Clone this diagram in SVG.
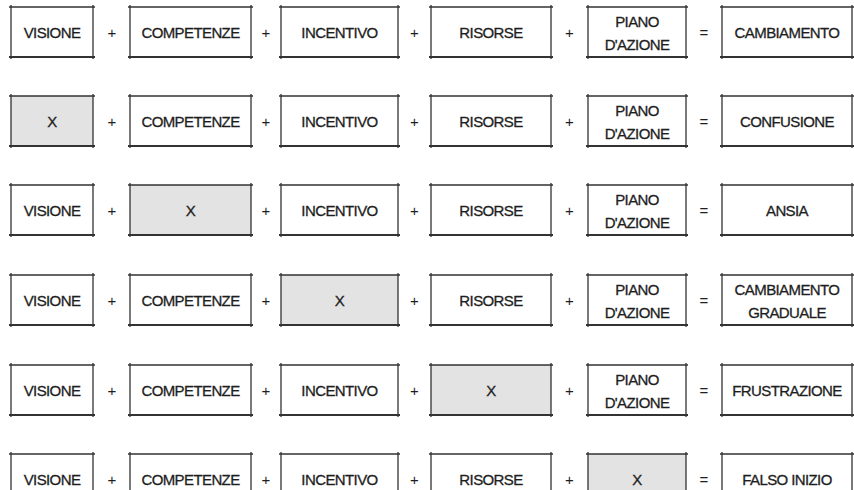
<svg xmlns="http://www.w3.org/2000/svg" width="854" height="490" viewBox="0 0 854 490">
  <style>
    .bg { fill: #ffffff; }
    .box { fill: #ffffff; stroke: none; }
    .box.off { fill: #e3e3e3; }
    .edge { fill: none; stroke: #333333; stroke-width: 1.3; }
    .edge-b { fill: none; stroke: #333333; stroke-width: 1.8; }
    .lbl { font-family: "Liberation Sans", Arial, sans-serif; font-size: 15px; fill: #1e1e1e; stroke: #1e1e1e; stroke-width: 0.3; text-anchor: middle; letter-spacing: -0.6px; }
    .op { font-family: "Liberation Sans", Arial, sans-serif; font-size: 15px; fill: #1e1e1e; text-anchor: middle; }
  </style>
  <rect class="bg" x="0" y="0" width="854" height="490"/>

  <!-- Row 1: complete equation -->
  <g id="r1">
    <g id="r1-visione"><rect class="box" x="11" y="7" width="82" height="50"/><path class="edge" d="M9 7H95M11 5V59M93 5V59"/><path class="edge-b" d="M9 57H95"/><text class="lbl" x="52" y="38">VISIONE</text></g>
    <g id="r1-competenze"><rect class="box" x="130" y="7" width="121" height="50"/><path class="edge" d="M128 7H253M130 5V59M251 5V59"/><path class="edge-b" d="M128 57H253"/><text class="lbl" x="190.5" y="38">COMPETENZE</text></g>
    <g id="r1-incentivo"><rect class="box" x="281" y="7" width="117" height="50"/><path class="edge" d="M279 7H400M281 5V59M398 5V59"/><path class="edge-b" d="M279 57H400"/><text class="lbl" x="339.5" y="38">INCENTIVO</text></g>
    <g id="r1-risorse"><rect class="box" x="431" y="7" width="120" height="50"/><path class="edge" d="M429 7H553M431 5V59M551 5V59"/><path class="edge-b" d="M429 57H553"/><text class="lbl" x="491" y="38">RISORSE</text></g>
    <g id="r1-piano"><rect class="box" x="588" y="7" width="98" height="50"/><path class="edge" d="M586 7H688M588 5V59M686 5V59"/><path class="edge-b" d="M586 57H688"/><text class="lbl" x="637" y="27">PIANO</text><text class="lbl" x="637" y="50">D'AZIONE</text></g>
    <g id="r1-result"><rect class="box" x="722" y="7" width="130" height="50"/><path class="edge" d="M720 7H854M722 5V59M852 5V59"/><path class="edge-b" d="M720 57H854"/><text class="lbl" x="787" y="38">CAMBIAMENTO</text></g>
  </g>

  <!-- Row 2: no vision -->
  <g id="r2">
    <g id="r2-visione"><rect class="box off" x="11" y="96" width="82" height="50"/><path class="edge" d="M9 96H95M11 94V148M93 94V148"/><path class="edge-b" d="M9 146H95"/><text class="lbl" x="52" y="127">X</text></g>
    <g id="r2-competenze"><rect class="box" x="130" y="96" width="121" height="50"/><path class="edge" d="M128 96H253M130 94V148M251 94V148"/><path class="edge-b" d="M128 146H253"/><text class="lbl" x="190.5" y="127">COMPETENZE</text></g>
    <g id="r2-incentivo"><rect class="box" x="281" y="96" width="117" height="50"/><path class="edge" d="M279 96H400M281 94V148M398 94V148"/><path class="edge-b" d="M279 146H400"/><text class="lbl" x="339.5" y="127">INCENTIVO</text></g>
    <g id="r2-risorse"><rect class="box" x="431" y="96" width="120" height="50"/><path class="edge" d="M429 96H553M431 94V148M551 94V148"/><path class="edge-b" d="M429 146H553"/><text class="lbl" x="491" y="127">RISORSE</text></g>
    <g id="r2-piano"><rect class="box" x="588" y="96" width="98" height="50"/><path class="edge" d="M586 96H688M588 94V148M686 94V148"/><path class="edge-b" d="M586 146H688"/><text class="lbl" x="637" y="116">PIANO</text><text class="lbl" x="637" y="139">D'AZIONE</text></g>
    <g id="r2-result"><rect class="box" x="722" y="96" width="130" height="50"/><path class="edge" d="M720 96H854M722 94V148M852 94V148"/><path class="edge-b" d="M720 146H854"/><text class="lbl" x="787" y="127">CONFUSIONE</text></g>
  </g>

  <!-- Row 3: no skills -->
  <g id="r3">
    <g id="r3-visione"><rect class="box" x="11" y="185" width="82" height="50"/><path class="edge" d="M9 185H95M11 183V237M93 183V237"/><path class="edge-b" d="M9 235H95"/><text class="lbl" x="52" y="216">VISIONE</text></g>
    <g id="r3-competenze"><rect class="box off" x="130" y="185" width="121" height="50"/><path class="edge" d="M128 185H253M130 183V237M251 183V237"/><path class="edge-b" d="M128 235H253"/><text class="lbl" x="190.5" y="216">X</text></g>
    <g id="r3-incentivo"><rect class="box" x="281" y="185" width="117" height="50"/><path class="edge" d="M279 185H400M281 183V237M398 183V237"/><path class="edge-b" d="M279 235H400"/><text class="lbl" x="339.5" y="216">INCENTIVO</text></g>
    <g id="r3-risorse"><rect class="box" x="431" y="185" width="120" height="50"/><path class="edge" d="M429 185H553M431 183V237M551 183V237"/><path class="edge-b" d="M429 235H553"/><text class="lbl" x="491" y="216">RISORSE</text></g>
    <g id="r3-piano"><rect class="box" x="588" y="185" width="98" height="50"/><path class="edge" d="M586 185H688M588 183V237M686 183V237"/><path class="edge-b" d="M586 235H688"/><text class="lbl" x="637" y="205">PIANO</text><text class="lbl" x="637" y="228">D'AZIONE</text></g>
    <g id="r3-result"><rect class="box" x="722" y="185" width="130" height="50"/><path class="edge" d="M720 185H854M722 183V237M852 183V237"/><path class="edge-b" d="M720 235H854"/><text class="lbl" x="787" y="216">ANSIA</text></g>
  </g>

  <!-- Row 4: no incentive -->
  <g id="r4">
    <g id="r4-visione"><rect class="box" x="11" y="275" width="82" height="50"/><path class="edge" d="M9 275H95M11 273V327M93 273V327"/><path class="edge-b" d="M9 325H95"/><text class="lbl" x="52" y="306">VISIONE</text></g>
    <g id="r4-competenze"><rect class="box" x="130" y="275" width="121" height="50"/><path class="edge" d="M128 275H253M130 273V327M251 273V327"/><path class="edge-b" d="M128 325H253"/><text class="lbl" x="190.5" y="306">COMPETENZE</text></g>
    <g id="r4-incentivo"><rect class="box off" x="281" y="275" width="117" height="50"/><path class="edge" d="M279 275H400M281 273V327M398 273V327"/><path class="edge-b" d="M279 325H400"/><text class="lbl" x="339.5" y="306">X</text></g>
    <g id="r4-risorse"><rect class="box" x="431" y="275" width="120" height="50"/><path class="edge" d="M429 275H553M431 273V327M551 273V327"/><path class="edge-b" d="M429 325H553"/><text class="lbl" x="491" y="306">RISORSE</text></g>
    <g id="r4-piano"><rect class="box" x="588" y="275" width="98" height="50"/><path class="edge" d="M586 275H688M588 273V327M686 273V327"/><path class="edge-b" d="M586 325H688"/><text class="lbl" x="637" y="295">PIANO</text><text class="lbl" x="637" y="318">D'AZIONE</text></g>
    <g id="r4-result"><rect class="box" x="722" y="275" width="130" height="50"/><path class="edge" d="M720 275H854M722 273V327M852 273V327"/><path class="edge-b" d="M720 325H854"/><text class="lbl" x="787" y="295">CAMBIAMENTO</text><text class="lbl" x="787" y="318">GRADUALE</text></g>
  </g>

  <!-- Row 5: no resources -->
  <g id="r5">
    <g id="r5-visione"><rect class="box" x="11" y="365" width="82" height="50"/><path class="edge" d="M9 365H95M11 363V417M93 363V417"/><path class="edge-b" d="M9 415H95"/><text class="lbl" x="52" y="396">VISIONE</text></g>
    <g id="r5-competenze"><rect class="box" x="130" y="365" width="121" height="50"/><path class="edge" d="M128 365H253M130 363V417M251 363V417"/><path class="edge-b" d="M128 415H253"/><text class="lbl" x="190.5" y="396">COMPETENZE</text></g>
    <g id="r5-incentivo"><rect class="box" x="281" y="365" width="117" height="50"/><path class="edge" d="M279 365H400M281 363V417M398 363V417"/><path class="edge-b" d="M279 415H400"/><text class="lbl" x="339.5" y="396">INCENTIVO</text></g>
    <g id="r5-risorse"><rect class="box off" x="431" y="365" width="120" height="50"/><path class="edge" d="M429 365H553M431 363V417M551 363V417"/><path class="edge-b" d="M429 415H553"/><text class="lbl" x="491" y="396">X</text></g>
    <g id="r5-piano"><rect class="box" x="588" y="365" width="98" height="50"/><path class="edge" d="M586 365H688M588 363V417M686 363V417"/><path class="edge-b" d="M586 415H688"/><text class="lbl" x="637" y="385">PIANO</text><text class="lbl" x="637" y="408">D'AZIONE</text></g>
    <g id="r5-result"><rect class="box" x="722" y="365" width="130" height="50"/><path class="edge" d="M720 365H854M722 363V417M852 363V417"/><path class="edge-b" d="M720 415H854"/><text class="lbl" x="787" y="396">FRUSTRAZIONE</text></g>
  </g>

  <!-- Row 6: no action plan (bottom edge runs off the canvas) -->
  <g id="r6">
    <g id="r6-visione"><rect class="box" x="11" y="454" width="82" height="50"/><path class="edge" d="M9 454H95M11 452V506M93 452V506"/><text class="lbl" x="52" y="485">VISIONE</text></g>
    <g id="r6-competenze"><rect class="box" x="130" y="454" width="121" height="50"/><path class="edge" d="M128 454H253M130 452V506M251 452V506"/><text class="lbl" x="190.5" y="485">COMPETENZE</text></g>
    <g id="r6-incentivo"><rect class="box" x="281" y="454" width="117" height="50"/><path class="edge" d="M279 454H400M281 452V506M398 452V506"/><text class="lbl" x="339.5" y="485">INCENTIVO</text></g>
    <g id="r6-risorse"><rect class="box" x="431" y="454" width="120" height="50"/><path class="edge" d="M429 454H553M431 452V506M551 452V506"/><text class="lbl" x="491" y="485">RISORSE</text></g>
    <g id="r6-piano"><rect class="box off" x="588" y="454" width="98" height="50"/><path class="edge" d="M586 454H688M588 452V506M686 452V506"/><text class="lbl" x="637" y="485">X</text></g>
    <g id="r6-result"><rect class="box" x="722" y="454" width="130" height="50"/><path class="edge" d="M720 454H854M722 452V506M852 452V506"/><text class="lbl" x="787" y="485">FALSO INIZIO</text></g>
  </g>

  <!-- operators between the terms of each row -->
  <g id="operators">
    <g id="op-r1"><text class="op" x="112" y="38">+</text><text class="op" x="266" y="38">+</text><text class="op" x="414.5" y="38">+</text><text class="op" x="569.5" y="38">+</text><text class="op" x="704" y="38">=</text></g>
    <g id="op-r2"><text class="op" x="112" y="127">+</text><text class="op" x="266" y="127">+</text><text class="op" x="414.5" y="127">+</text><text class="op" x="569.5" y="127">+</text><text class="op" x="704" y="127">=</text></g>
    <g id="op-r3"><text class="op" x="112" y="216">+</text><text class="op" x="266" y="216">+</text><text class="op" x="414.5" y="216">+</text><text class="op" x="569.5" y="216">+</text><text class="op" x="704" y="216">=</text></g>
    <g id="op-r4"><text class="op" x="112" y="306">+</text><text class="op" x="266" y="306">+</text><text class="op" x="414.5" y="306">+</text><text class="op" x="569.5" y="306">+</text><text class="op" x="704" y="306">=</text></g>
    <g id="op-r5"><text class="op" x="112" y="396">+</text><text class="op" x="266" y="396">+</text><text class="op" x="414.5" y="396">+</text><text class="op" x="569.5" y="396">+</text><text class="op" x="704" y="396">=</text></g>
    <g id="op-r6"><text class="op" x="112" y="485">+</text><text class="op" x="266" y="485">+</text><text class="op" x="414.5" y="485">+</text><text class="op" x="569.5" y="485">+</text><text class="op" x="704" y="485">=</text></g>
  </g>
</svg>
